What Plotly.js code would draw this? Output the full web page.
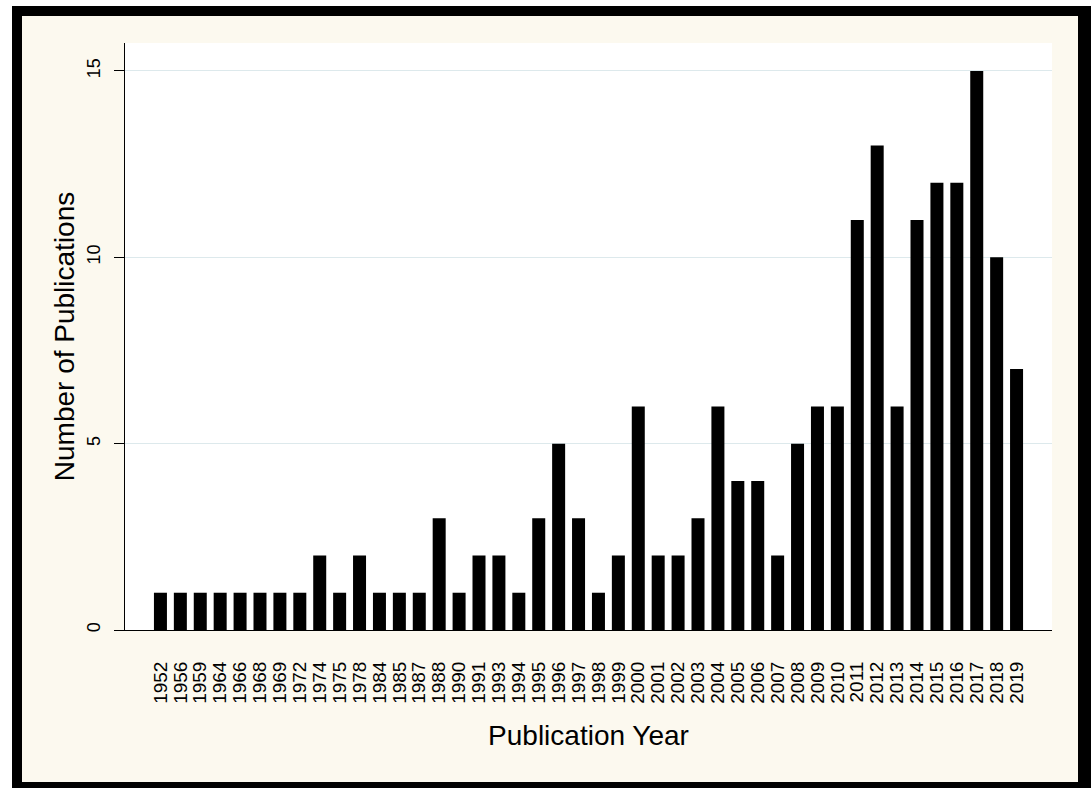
<!DOCTYPE html>
<html>
<head>
<meta charset="utf-8">
<script src="https://cdn.plot.ly/plotly-3.0.1.min.js"></script>
<style>
  html, body { margin: 0; padding: 0; background: #ffffff; width: 1091px; height: 788px; overflow: hidden; }
  #frame {
    position: absolute; left: 12px; top: 6px;
    width: 1056px; height: 766px;
    border-left: 10px solid #000; border-top: 10px solid #000;
    border-right: 13px solid #000; border-bottom: 6px solid #000;
    background: #fcf9ef;
  }
  #chart { width: 1056px; height: 766px; }
</style>
</head>
<body>
<div id="frame"><div id="chart"></div></div>
<script>
const years = ["1952","1956","1959","1964","1966","1968","1969","1972","1974","1975","1978","1984","1985","1987","1988","1990","1991","1993","1994","1995","1996","1997","1998","1999","2000","2001","2002","2003","2004","2005","2006","2007","2008","2009","2010","2011","2012","2013","2014","2015","2016","2017","2018","2019"];
const publications = [1,1,1,1,1,1,1,1,2,1,2,1,1,1,3,1,2,2,1,3,5,3,1,2,6,2,2,3,6,4,4,2,5,6,6,11,13,6,11,12,12,15,10,7];
const yTicks = [0,5,10,15];

const trace = {
  type: 'bar',
  x: years,
  y: publications,
  marker: { color: '#000000', line: { color: '#000000', width: 0 } },
  hoverinfo: 'x+y'
};

const layout = {
  width: 1056, height: 766,
  paper_bgcolor: '#fcf9ef',
  plot_bgcolor: '#ffffff',
  margin: { l: 103, r: 26, t: 27, b: 152 },
  bargap: 0.347,
  showlegend: false,
  font: { family: 'Liberation Sans, Arial, sans-serif', color: '#000000' },
  xaxis: {
    type: 'category',
    range: [-1.78, 44.78],
    tickmode: 'array',
    tickvals: years,
    ticktext: years,
    tickangle: -90,
    tickfont: { size: 19, color: '#000000' },
    ticks: 'outside', ticklen: 23, tickcolor: 'rgba(0,0,0,0)',
    showgrid: false, zeroline: false,
    showline: true, linecolor: '#000000', linewidth: 1,
    automargin: false,
    title: { text: 'Publication Year', font: { size: 28, color: '#000000' }, standoff: 22 }
  },
  yaxis: {
    range: [0, 15.75],
    tickvals: yTicks,
    ticktext: yTicks.map(String),
    tickangle: -90,
    tickfont: { size: 18, color: '#000000' },
    ticks: 'outside', ticklen: 10, tickcolor: '#000000', tickwidth: 1,
    ticklabelstandoff: 7,
    showgrid: true, gridcolor: '#dde9ec', gridwidth: 1,
    zeroline: false,
    showline: true, linecolor: '#000000', linewidth: 1,
    automargin: false,
    title: { text: 'Number of Publications', font: { size: 28, color: '#000000' }, standoff: 0 }
  }
};

Plotly.newPlot('chart', [trace], layout, { displayModeBar: false, staticPlot: true });
</script>
</body>
</html>
